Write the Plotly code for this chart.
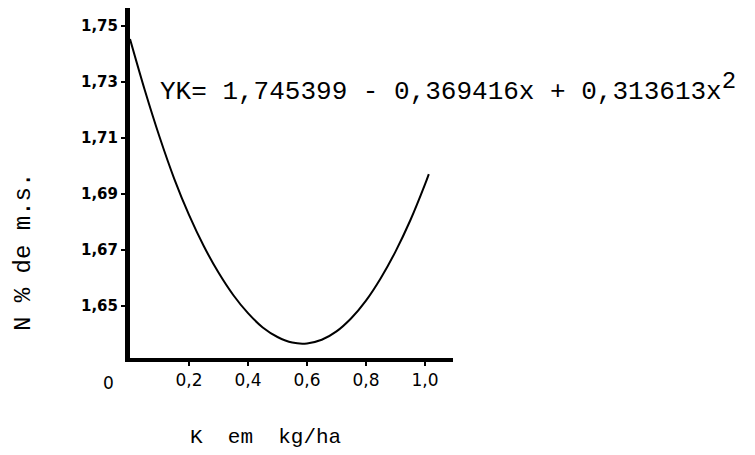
import plotly.graph_objects as go

# Nitrogen content (% dry matter) against potassium dose (kg/ha)
k_dose = [0.0, 0.05, 0.10, 0.15, 0.20, 0.25, 0.30, 0.35, 0.40, 0.45, 0.50,
          0.55, 0.60, 0.65, 0.70, 0.75, 0.80, 0.85, 0.90, 0.95, 1.00, 1.013]
n_pct = [1.7454, 1.7272, 1.7105, 1.6955, 1.6826, 1.6715, 1.6620, 1.6540,
         1.6475, 1.6424, 1.6390, 1.6370, 1.6367, 1.6380, 1.6410, 1.6457,
         1.6520, 1.6600, 1.6695, 1.6806, 1.6935, 1.6972]

x_ticks = [0.2, 0.4, 0.6, 0.8, 1.0]
x_tick_text = ["0,2", "0,4", "0,6", "0,8", "1,0"]
y_ticks = [1.65, 1.67, 1.69, 1.71, 1.73, 1.75]
y_tick_text = ["1,65", "1,67", "1,69", "1,71", "1,73", "1,75"]

equation = ("YK= 1,745399 - 0,369416x + 0,313613x"
            "<sup><span style='font-size:24px'>2</span></sup>")

MONO = "Liberation Mono"
SANS = "DejaVu Sans"
L, R, T, B = 130, 302, 8, 97
PLOT_W = 755 - L - R
PLOT_H = 455 - T - B

fig = go.Figure()
fig.add_trace(go.Scatter(
    x=k_dose, y=n_pct, mode="lines",
    line=dict(color="black", width=2, shape="spline", smoothing=0.8),
    hoverinfo="skip", showlegend=False, cliponaxis=False,
))

fig.add_annotation(
    x=0.095, y=1.7282, xref="x", yref="y", text=equation,
    showarrow=False, xanchor="left", yanchor="middle",
    font=dict(family=MONO, size=26, color="black"),
)
# origin label sits a little left of the corner
fig.add_annotation(
    x=(108 - L) / PLOT_W, y=0, xref="paper", yref="paper", text="0",
    showarrow=False, xanchor="center", yanchor="top", yshift=-13,
    font=dict(family=SANS, size=17, color="black"),
)
# axis titles
fig.add_annotation(
    x=(265 - L) / PLOT_W, y=(455 - B - 437) / PLOT_H, xref="paper", yref="paper",
    text="K  em  kg/ha", showarrow=False, xanchor="center", yanchor="middle",
    font=dict(family=MONO, size=21, color="black"),
)
fig.add_annotation(
    x=(24 - L) / PLOT_W, y=(455 - B - 252) / PLOT_H, xref="paper", yref="paper",
    text="N % de m.s.", textangle=-90, showarrow=False,
    xanchor="center", yanchor="middle",
    font=dict(family=MONO, size=24, color="black"),
)

fig.update_layout(
    width=755, height=455,
    margin=dict(l=L, r=R, t=T, b=B),
    paper_bgcolor="white", plot_bgcolor="white",
    xaxis=dict(
        range=[0, 1.095], showgrid=False, zeroline=False,
        showline=True, linecolor="black", linewidth=4,
        tickvals=x_ticks, ticktext=x_tick_text,
        ticks="outside", ticklen=4, tickwidth=2, tickcolor="black",
        tickfont=dict(family=SANS, size=17, color="black"),
    ),
    yaxis=dict(
        range=[1.6315, 1.7565], showgrid=False, zeroline=False,
        showline=True, linecolor="black", linewidth=5,
        tickvals=y_ticks, ticktext=y_tick_text,
        ticks="outside", ticklen=4, tickwidth=2, tickcolor="black",
        tickfont=dict(family=SANS, size=15, color="black", weight="bold"),
    ),
)

fig.write_html("out.html")
